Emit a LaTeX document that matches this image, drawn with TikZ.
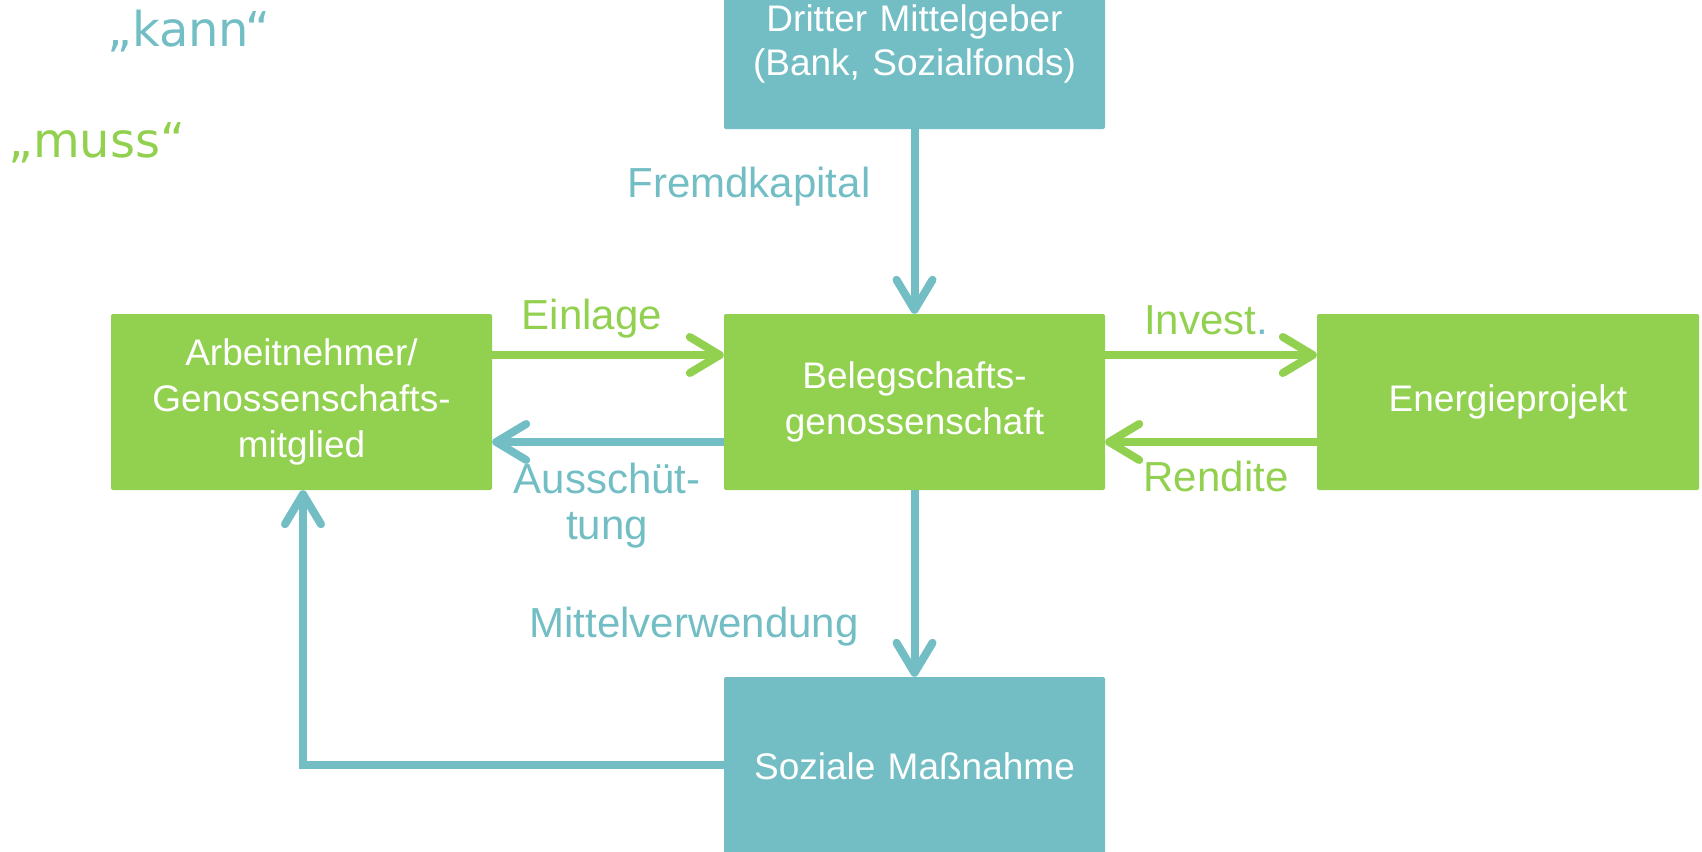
\documentclass[tikz,border=0pt]{standalone}
\usepackage{fontspec}
\setmainfont{Liberation Sans}
\newfontfamily\quotefont{DejaVu Sans}
\usetikzlibrary{arrows.meta}
\definecolor{cgreen}{RGB}{146,208,80}
\definecolor{cblue}{RGB}{114,190,196}
\tikzset{
  box/.style={rounded corners=2pt, inner sep=0pt, minimum width=381pt, text width=370pt, align=center, text=white, font=\fontsize{37}{46}\selectfont},
  gbox/.style={box, fill=cgreen},
  bbox/.style={box, fill=cblue},
  conn/.style={line width=8pt, -{Straight Barb[length=30pt,width=36pt,round]}},
  gconn/.style={conn, draw=cgreen},
  bconn/.style={conn, draw=cblue},
  lbl/.style={anchor=base, inner sep=0pt, font=\fontsize{42}{48}\selectfont},
}
\begin{document}
\begin{tikzpicture}[x=1pt,y=-1pt]
\useasboundingbox (0,0) rectangle (1702,851);
% boxes
\node[bbox, minimum height=171pt, font=\fontsize{37}{44}\selectfont] (dritter) at (914.5,43.5) {Dritter Mittelgeber\\(Bank, Sozialfonds)};
\node[gbox, minimum height=176pt] (beleg) at (914.5,402) {Belegschafts-\\genossenschaft};
\node[gbox, minimum height=176pt] (arbeit) at (301.5,402) {Arbeitnehmer/\\Genossenschafts-\\mitglied};
\node[gbox, minimum height=176pt, minimum width=382pt] (energie) at (1508,402) {Energieprojekt};
\node[bbox, minimum height=178pt] (sozial) at (914.5,766) {Soziale Maßnahme};
% legend
\node[anchor=base west, inner sep=0pt, text=cblue, font=\quotefont\fontsize{48}{56}\selectfont] (kann) at (107,47) {„kann“};
\node[anchor=base west, inner sep=0pt, text=cgreen, font=\quotefont\fontsize{48}{56}\selectfont] (muss) at (8,157) {„muss“};
% connectors
\draw[bconn] (dritter.south) -- (beleg.north);
\draw[bconn] (beleg.south) -- (sozial.north);
\draw[gconn] (arbeit.east |- 0,355) -- (beleg.west |- 0,355);
\draw[bconn] (beleg.west |- 0,442) -- (arbeit.east |- 0,442);
\draw[gconn] (beleg.east |- 0,355) -- (energie.west |- 0,355);
\draw[gconn] (energie.west |- 0,442) -- (beleg.east |- 0,442);
\coordinate (corner) at (303,765);
\draw[bconn] (sozial.west |- corner) -- (corner) -- (corner |- arbeit.south);
% labels
\node[lbl, text=cblue] (fremd) at (749,197) {Fremdkapital};
\node[lbl, text=cgreen] (einlage) at (592,329) {Einlage};
\node[lbl, text=cblue, align=center, anchor=north, font=\fontsize{42}{46}\selectfont] (aus) at (607,463) {Ausschüt-\\tung};
\node[lbl, text=cgreen] (invest) at (1206,334) {Invest\textcolor{cblue}{.}};
\node[lbl, text=cgreen] (rendite) at (1216,491) {Rendite};
\node[lbl, text=cblue] (mittel) at (694,637) {Mittelverwendung};
\end{tikzpicture}
\end{document}
